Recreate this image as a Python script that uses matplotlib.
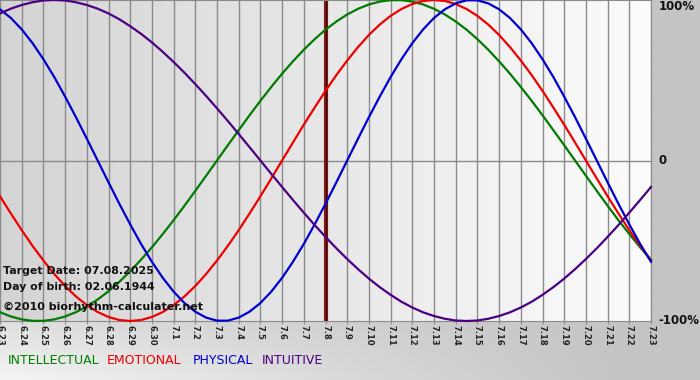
import matplotlib
matplotlib.use("Agg")
import matplotlib.pyplot as plt
from matplotlib.colors import LinearSegmentedColormap
import numpy as np

# day labels (month.day)
dates = ["6.23", "6.24", "6.25", "6.26", "6.27", "6.28", "6.29", "6.30",
         "7.1", "7.2", "7.3", "7.4", "7.5", "7.6", "7.7", "7.8", "7.9",
         "7.10", "7.11", "7.12", "7.13", "7.14", "7.15", "7.16", "7.17",
         "7.18", "7.19", "7.20", "7.21", "7.22", "7.23"]
target = "7.8"

# curve values every half day, starting at 6.23
intellectual = [-0.945, -0.972, -0.990, -0.999, -0.999, -0.990, -0.972, -0.945,
                -0.910, -0.866, -0.815, -0.756, -0.690, -0.618, -0.541, -0.458,
                -0.372, -0.282, -0.189, -0.095, 0.000, 0.095, 0.189, 0.282,
                0.372, 0.458, 0.541, 0.618, 0.690, 0.756, 0.815, 0.866, 0.910,
                0.945, 0.972, 0.990, 0.999, 0.999, 0.990, 0.972, 0.945, 0.910,
                0.866, 0.815, 0.756, 0.690, 0.618, 0.541, 0.458, 0.372, 0.282,
                0.189, 0.095, 0.000, -0.095, -0.189, -0.282, -0.372, -0.458,
                -0.541, -0.618]
emotional = [-0.223, -0.330, -0.434, -0.532, -0.623, -0.707, -0.782, -0.847,
             -0.901, -0.944, -0.975, -0.994, -1.000, -0.994, -0.975, -0.944,
             -0.901, -0.847, -0.782, -0.707, -0.623, -0.532, -0.434, -0.330,
             -0.223, -0.112, 0.000, 0.112, 0.223, 0.330, 0.434, 0.532, 0.623,
             0.707, 0.782, 0.847, 0.901, 0.944, 0.975, 0.994, 1.000, 0.994,
             0.975, 0.944, 0.901, 0.847, 0.782, 0.707, 0.623, 0.532, 0.434,
             0.330, 0.223, 0.112, 0.000, -0.112, -0.223, -0.330, -0.434,
             -0.532, -0.623]
physical = [0.942, 0.888, 0.817, 0.731, 0.631, 0.520, 0.398, 0.270, 0.136,
            0.000, -0.136, -0.270, -0.398, -0.520, -0.631, -0.731, -0.817,
            -0.888, -0.942, -0.979, -0.998, -0.998, -0.979, -0.942, -0.888,
            -0.817, -0.731, -0.631, -0.520, -0.398, -0.270, -0.136, 0.000,
            0.136, 0.270, 0.398, 0.520, 0.631, 0.731, 0.817, 0.888, 0.942,
            0.979, 0.998, 0.998, 0.979, 0.942, 0.888, 0.817, 0.731, 0.631,
            0.520, 0.398, 0.270, 0.136, 0.000, -0.136, -0.270, -0.398, -0.520,
            -0.631]
intuitive = [0.916, 0.946, 0.969, 0.986, 0.997, 1.000, 0.997, 0.986, 0.969,
             0.946, 0.916, 0.880, 0.837, 0.789, 0.736, 0.677, 0.614, 0.547,
             0.476, 0.402, 0.325, 0.246, 0.165, 0.083, 0.000, -0.083, -0.165,
             -0.246, -0.325, -0.402, -0.476, -0.547, -0.614, -0.677, -0.736,
             -0.789, -0.837, -0.880, -0.916, -0.946, -0.969, -0.986, -0.997,
             -1.000, -0.997, -0.986, -0.969, -0.946, -0.916, -0.880, -0.837,
             -0.789, -0.736, -0.677, -0.614, -0.547, -0.476, -0.402, -0.325,
             -0.246, -0.165]

W, H = 700, 380
fig = plt.figure(figsize=(W / 100, H / 100), dpi=100, facecolor="#c4c4c4")

# figure background: lighter at bottom left, grey on the right
bg = fig.add_axes([0, 0, 1, 1], zorder=-10)
gx = np.linspace(0, 1, 200)
gy = np.linspace(0, 1, 100)
GX, GY = np.meshgrid(gx, gy)
shade = np.clip(1 - GX * 1.1, 0, 1) * np.clip(1 - GY * 3.0, 0, 1)
bg_cmap = LinearSegmentedColormap.from_list("bg", ["#c4c4c4", "#f4f4f4"])
bg.imshow(shade, cmap=bg_cmap, aspect="auto", extent=[0, 1, 0, 1],
          origin="lower", vmin=0, vmax=1)
bg.set_xlim(0, 1)
bg.set_ylim(0, 1)
bg.axis("off")

ax = fig.add_axes([0, 59 / H, 651 / W, 321 / H])
x = np.arange(len(dates))
xs = np.arange(len(physical)) / 2  # half-day positions
ax.set_xlim(0, len(dates) - 1)
ax.set_ylim(-1, 1)

# plot background gradient, grey at left to near white at right
plot_cmap = LinearSegmentedColormap.from_list("pl", ["#d4d4d4", "#fcfcfc"])
ax.imshow(np.linspace(0, 1, 256).reshape(1, -1), cmap=plot_cmap, aspect="auto",
          extent=[0, len(dates) - 1, -1, 1], zorder=0)

for xi in x:
    ax.axvline(xi, color="#8a8a8a", lw=1, zorder=1)
ax.axhline(0, color="#8a8a8a", lw=1, zorder=1)

ti = dates.index(target)
ax.axvline(ti, color="#8b1a1a", lw=3, zorder=2)
ax.axvline(ti, color="#3a0000", lw=1, zorder=2)

ax.plot(xs, intellectual, color="#007a00", lw=1.6, zorder=3, clip_on=False)
ax.plot(xs, emotional, color="#ee0000", lw=1.6, zorder=3, clip_on=False)
ax.plot(xs, physical, color="#0000cc", lw=1.6, zorder=3, clip_on=False)
ax.plot(xs, intuitive, color="#4b0082", lw=1.6, zorder=3, clip_on=False)

ax.set_xticks(x, dates, rotation=-90, fontsize=6, fontweight="bold",
              color="#222222")
ax.tick_params(axis="x", length=2, color="#8a8a8a", pad=1)
ax.set_yticks([])
for s in ["top", "bottom", "right"]:
    ax.spines[s].set_color("#8a8a8a")
ax.spines["left"].set_visible(False)

# right side percent labels
ax.text(1.012, 1.0, "100%", transform=ax.transAxes, va="top", ha="left",
        fontsize=8.5, fontweight="bold", color="#111111")
ax.text(1.012, 0.5, "0", transform=ax.transAxes, va="center", ha="left",
        fontsize=8.5, fontweight="bold", color="#111111")
ax.text(1.012, 0.0, "-100%", transform=ax.transAxes, va="center", ha="left",
        fontsize=8.5, fontweight="bold", color="#111111")

# info texts
fig.text(3 / W, 1 - 271 / H, "Target Date: 07.08.2025", va="center",
         fontsize=7.9, fontweight="bold", color="#111111")
fig.text(3 / W, 1 - 287 / H, "Day of birth: 02.06.1944", va="center",
         fontsize=7.9, fontweight="bold", color="#111111")
fig.text(3 / W, 1 - 307 / H, "©2010 biorhythm-calculater.net", va="center",
         fontsize=8, fontweight="bold", color="#111111")

# legend row
legend = [("INTELLECTUAL", "#008000", 8), ("EMOTIONAL", "#ee0000", 107),
          ("PHYSICAL", "#0000cc", 193), ("INTUITIVE", "#4b0082", 262)]
for name, col, px in legend:
    fig.text(px / W, 1 - 361 / H, name, color=col, va="center", fontsize=9)

fig.savefig("out.png", dpi=100)
